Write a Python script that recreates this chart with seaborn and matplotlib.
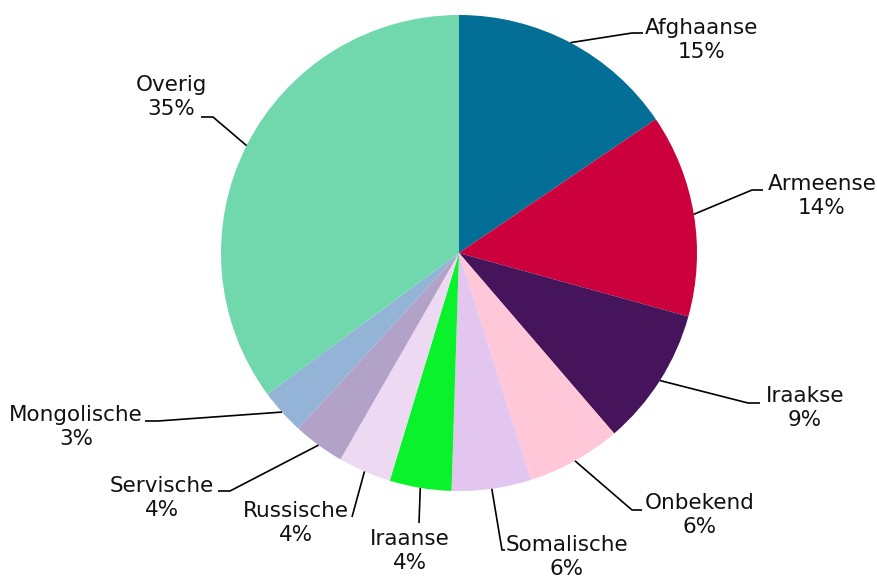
import numpy as np
import matplotlib
matplotlib.use("Agg")
import matplotlib.pyplot as plt
import seaborn as sns

labels = ["Afghaanse", "Armeense", "Iraakse", "Onbekend", "Somalische",
          "Iraanse", "Russische", "Servische", "Mongolische", "Overig"]
shares = [15.5, 13.8, 9.4, 6.4, 5.4, 4.2, 3.6, 3.5, 3.1, 35.1]
pct_text = ["15%", "14%", "9%", "6%", "6%", "4%", "4%", "4%", "3%", "35%"]
colors = ["#036e96", "#cc003d", "#46145a", "#ffc7d8", "#e2c6ef",
          "#0af22c", "#eed9f3", "#b2a2c7", "#94b4d7", "#71d8ae"]

# layout, in pixels of the 878x578 canvas
W, H = 878, 578
CX, CY, R = 459, 253, 238
elbows = [(632, 33), (752, 190), (748, 403), (632, 510), (502, 550),
          (419, 523), (352, 517), (230, 491), (158, 421), (213, 117)]
ends = [(643, 33), (763, 190), (760, 403), (642, 510), (505, 550),
        (419, 523), (352, 517), (218, 491), (145, 421), (201, 117)]
text_pos = [(702, 40), (822, 196), (805, 408), (700, 515), (567, 557),
            (410, 551), (296, 523), (162, 498), (76, 427), (171, 97)]


def to_data(p):
    return (p[0] - CX) / R, (CY - p[1]) / R


sns.set_theme(style="white")
plt.rcParams["font.family"] = ["DejaVu Sans"]

fig = plt.figure(figsize=(W / 100, H / 100), dpi=100)
ax = fig.add_axes([0, 0, 1, 1])

ax.pie(shares, colors=sns.color_palette(colors), startangle=90, counterclock=False,
       radius=1, center=(0, 0), wedgeprops=dict(linewidth=0))

total = sum(shares)
cum = np.cumsum([0] + shares[:-1])
for i, lab in enumerate(labels):
    theta = np.deg2rad(360 * (cum[i] + shares[i] / 2) / total)
    sx, sy = np.sin(theta), np.cos(theta)
    ex, ey = to_data(elbows[i])
    fx, fy = to_data(ends[i])
    ax.plot([sx, ex, fx], [sy, ey, fy], color="black", lw=1.2, solid_capstyle="butt")
    tx, ty = to_data(text_pos[i])
    ax.text(tx, ty, f"{lab}\n{pct_text[i]}", ha="center", va="center",
            multialignment="center", fontsize=15.5, color="#111111", linespacing=1.28)

ax.set_xlim(-CX / R, (W - CX) / R)
ax.set_ylim(-(H - CY) / R, CY / R)
ax.set_aspect("auto")
ax.axis("off")

fig.savefig("out.png", dpi=100)
